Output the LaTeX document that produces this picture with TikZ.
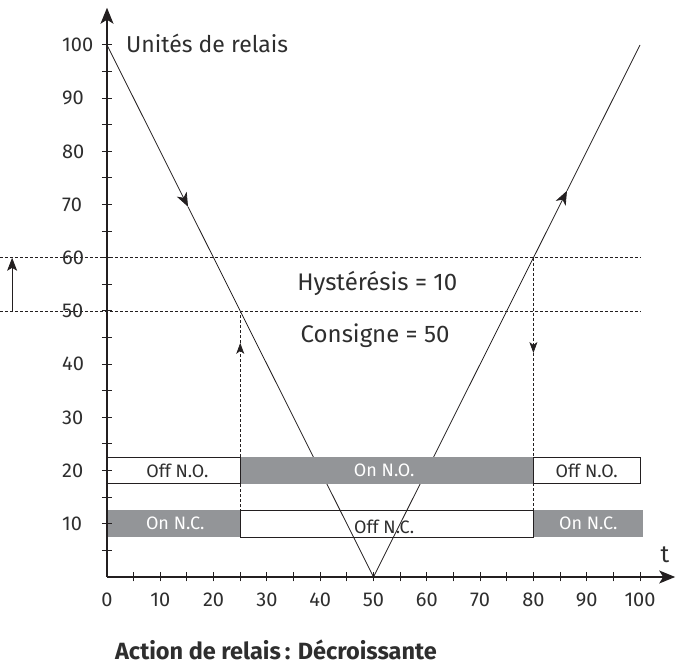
\documentclass[tikz,border=0pt]{standalone}
\usepackage{fontspec}
\setmainfont{Fira Sans}
\usetikzlibrary{arrows.meta}
\definecolor{txt}{HTML}{2E2E2E}
\definecolor{ln}{HTML}{231F20}
\definecolor{gbox}{HTML}{939598}
\begin{document}
\begin{tikzpicture}[x=5.33pt,y=5.32pt,
  lbl/.style={text=txt, font=\fontsize{20}{22}\selectfont, inner sep=0pt},
  big/.style={text=txt, font=\fontsize{24}{28}\selectfont, inner sep=0pt},
  ttl/.style={text=txt, font=\bfseries\fontsize{23.5}{28}\selectfont, inner sep=0pt},
  onlbl/.style={text=white, font=\fontsize{18}{20}\selectfont, inner sep=0pt},
  offlbl/.style={text=txt, font=\fontsize{18}{20}\selectfont, inner sep=0pt},
  dashline/.style={draw=ln, line width=0.7pt, dash pattern=on 3pt off 2pt},
  vline/.style={draw=ln, line width=0.8pt},
  axis/.style={draw=ln, line width=1.2pt},
  onbox/.style={fill=gbox},
  offbox/.style={draw=ln, line width=0.9pt},
  midtip/.style={-{Stealth[length=14pt,width=11pt,inset=4pt]}},
  smalltip/.style={-{Stealth[length=11pt,width=8pt,inset=3pt]}},
  axtip/.style={-{Stealth[length=16pt,width=13pt,inset=4pt]}}
]
\useasboundingbox (-107pt,-91pt) rectangle (579pt,577pt);

% coordinates
\coordinate (O) at (0,0);
\coordinate (A) at (0,100);
\coordinate (B) at (50,0);
\coordinate (C) at (100,100);
\coordinate (m1) at (15.2,69.6);
\coordinate (m2) at (86.3,72.6);
\coordinate (L60) at (-20.1,60);
\coordinate (R60) at (100,60);
\coordinate (L50) at (-20.1,50);
\coordinate (R50) at (100,50);
\coordinate (h0) at (-17.8,50);
\coordinate (h1) at (-17.8,60);
\coordinate (d25t) at (25,50);
\coordinate (d25a) at (25,44);
\coordinate (d25b) at (25,7.5);
\coordinate (d80t) at (80,60);
\coordinate (d80a) at (80,42.1);
\coordinate (d80b) at (80,7.5);
\coordinate (Yend) at (0,107);
\coordinate (Xend) at (106.6,0);

% hysteresis lines
\draw[dashline] (L60) -- (R60);
\draw[dashline] (L50) -- (R50);
\draw[line width=0.8pt, draw=ln, -{Stealth[length=13pt,width=10pt,inset=3pt]}] (h0) -- (h1);

% dashed verticals
\draw[dashline, smalltip] (d25b) -- (d25a);
\draw[dashline] (d25a) -- (d25t);
\draw[dashline, smalltip] (d80t) -- (d80a);
\draw[dashline] (d80a) -- (d80b);

% V curve
\draw[vline, midtip] (A) -- (m1);
\draw[vline] (m1) -- (B);
\draw[vline, midtip] (B) -- (m2);
\draw[vline] (m2) -- (C);

% relay boxes
\fill[onbox] (25,17.5) rectangle (80,22.5);
\fill[onbox] (0,7.5) rectangle (25,12.5);
\fill[onbox] (80,7.5) rectangle (100.5,12.5);
\draw[offbox, fill=white] (0,17.5) rectangle (25,22.5);
\draw[offbox, fill=white] (80,17.5) rectangle (100,22.5);
\draw[offbox] (25,7.5) rectangle (80,12.5);

\node[offlbl] (offno1) at (13.2,20) {Off N.O.};
\node[onlbl] (onno) at (52,20) {On N.O.};
\node[offlbl] (offno2) at (90,20) {Off N.O.};
\node[onlbl] (onnc1) at (12.8,10) {On N.C.};
\node[offlbl] (offnc) at (52,9.5) {Off N.C.};
\node[onlbl] (onnc2) at (90.3,10) {On N.C.};

% axes
\draw[axis, axtip] (O) -- (Yend);
\draw[axis, axtip] (O) -- (Xend);
\foreach \y in {5,10,...,100} \draw[axis, line width=1pt] ([xshift=-5pt]0,\y) -- ([xshift=5pt]0,\y);
\foreach \x in {5,10,...,100} \draw[axis, line width=1pt] ([yshift=-4.5pt]\x,0) -- ([yshift=4.5pt]\x,0);

\foreach \y in {10,20,...,100} \node[lbl, anchor=west, xshift=-45pt] (ylab\y) at (0,\y) {\y};
\foreach \x in {0,10,...,100} \node[lbl, yshift=-23pt] (xlab\x) at (\x,0) {\x};

% texts
\node[big, font=\fontsize{23}{27}\selectfont, anchor=base west] (units) at (3.56,98.5) {Unités de relais};
\node[big, anchor=base] (hyst) at (50.7,53.9) {Hystérésis = 10};
\node[big, anchor=base] (cons) at (50.3,44.0) {Consigne = 50};
\node[big, anchor=base] (tlab) at (104.7,2.8) {t};
\node[ttl, anchor=base] (title) at (31.7,-15.6) {Action de relais\,: Décroissante};
\end{tikzpicture}
\end{document}
